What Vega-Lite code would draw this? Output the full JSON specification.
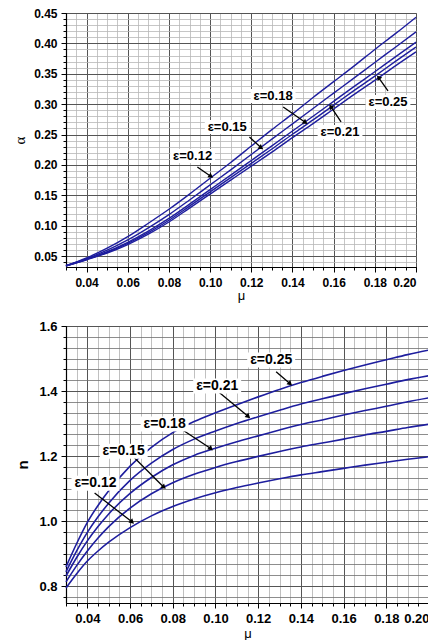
{
  "$schema": "https://vega.github.io/schema/vega-lite/v6.json",
  "background": "white",
  "padding": {"left": 12, "top": 6, "right": 2, "bottom": 0},
  "config": {
    "view": {"stroke": "#000", "strokeWidth": 1},
    "font": "Liberation Sans",
    "axis": {"labelFont": "Liberation Sans", "labelFontWeight": "bold", "labelFontSize": 12, "labelColor": "#000", "domainColor": "#000", "domainWidth": 1.2, "tickColor": "#000", "titleColor": "#000", "titleFontWeight": "normal", "labelPadding": 4, "tickSize": 5}
  },
  "datasets": {
    "alphaCurves": [
      {"mu":0.03,"eps":"0.12","alpha":0.034},{"mu":0.04,"eps":"0.12","alpha":0.047},{"mu":0.05,"eps":"0.12","alpha":0.063},{"mu":0.06,"eps":"0.12","alpha":0.082},{"mu":0.07,"eps":"0.12","alpha":0.104},{"mu":0.08,"eps":"0.12","alpha":0.127},{"mu":0.09,"eps":"0.12","alpha":0.152},{"mu":0.10,"eps":"0.12","alpha":0.178},{"mu":0.11,"eps":"0.12","alpha":0.204},{"mu":0.12,"eps":"0.12","alpha":0.231},{"mu":0.13,"eps":"0.12","alpha":0.258},{"mu":0.14,"eps":"0.12","alpha":0.284},{"mu":0.15,"eps":"0.12","alpha":0.311},{"mu":0.16,"eps":"0.12","alpha":0.337},{"mu":0.17,"eps":"0.12","alpha":0.363},{"mu":0.18,"eps":"0.12","alpha":0.390},{"mu":0.19,"eps":"0.12","alpha":0.416},{"mu":0.20,"eps":"0.12","alpha":0.443},
      {"mu":0.03,"eps":"0.15","alpha":0.034},{"mu":0.04,"eps":"0.15","alpha":0.0457},{"mu":0.05,"eps":"0.15","alpha":0.0596},{"mu":0.06,"eps":"0.15","alpha":0.0765},{"mu":0.07,"eps":"0.15","alpha":0.0964},{"mu":0.08,"eps":"0.15","alpha":0.1182},{"mu":0.09,"eps":"0.15","alpha":0.1423},{"mu":0.10,"eps":"0.15","alpha":0.1671},{"mu":0.11,"eps":"0.15","alpha":0.1918},{"mu":0.12,"eps":"0.15","alpha":0.2171},{"mu":0.13,"eps":"0.15","alpha":0.2425},{"mu":0.14,"eps":"0.15","alpha":0.2676},{"mu":0.15,"eps":"0.15","alpha":0.2929},{"mu":0.16,"eps":"0.15","alpha":0.3181},{"mu":0.17,"eps":"0.15","alpha":0.3433},{"mu":0.18,"eps":"0.15","alpha":0.3686},{"mu":0.19,"eps":"0.15","alpha":0.3937},{"mu":0.20,"eps":"0.15","alpha":0.419},
      {"mu":0.03,"eps":"0.18","alpha":0.034},{"mu":0.04,"eps":"0.18","alpha":0.0448},{"mu":0.05,"eps":"0.18","alpha":0.0572},{"mu":0.06,"eps":"0.18","alpha":0.0726},{"mu":0.07,"eps":"0.18","alpha":0.091},{"mu":0.08,"eps":"0.18","alpha":0.1119},{"mu":0.09,"eps":"0.18","alpha":0.1354},{"mu":0.10,"eps":"0.18","alpha":0.1593},{"mu":0.11,"eps":"0.18","alpha":0.1831},{"mu":0.12,"eps":"0.18","alpha":0.2072},{"mu":0.13,"eps":"0.18","alpha":0.2314},{"mu":0.14,"eps":"0.18","alpha":0.2559},{"mu":0.15,"eps":"0.18","alpha":0.28},{"mu":0.16,"eps":"0.18","alpha":0.3046},{"mu":0.17,"eps":"0.18","alpha":0.3292},{"mu":0.18,"eps":"0.18","alpha":0.3533},{"mu":0.19,"eps":"0.18","alpha":0.3778},{"mu":0.20,"eps":"0.18","alpha":0.402},
      {"mu":0.03,"eps":"0.21","alpha":0.034},{"mu":0.04,"eps":"0.21","alpha":0.0444},{"mu":0.05,"eps":"0.21","alpha":0.0561},{"mu":0.06,"eps":"0.21","alpha":0.0708},{"mu":0.07,"eps":"0.21","alpha":0.0885},{"mu":0.08,"eps":"0.21","alpha":0.1089},{"mu":0.09,"eps":"0.21","alpha":0.1322},{"mu":0.10,"eps":"0.21","alpha":0.1556},{"mu":0.11,"eps":"0.21","alpha":0.1791},{"mu":0.12,"eps":"0.21","alpha":0.2026},{"mu":0.13,"eps":"0.21","alpha":0.2262},{"mu":0.14,"eps":"0.21","alpha":0.2505},{"mu":0.15,"eps":"0.21","alpha":0.274},{"mu":0.16,"eps":"0.21","alpha":0.2983},{"mu":0.17,"eps":"0.21","alpha":0.3226},{"mu":0.18,"eps":"0.21","alpha":0.3462},{"mu":0.19,"eps":"0.21","alpha":0.3704},{"mu":0.20,"eps":"0.21","alpha":0.394},
      {"mu":0.03,"eps":"0.25","alpha":0.034},{"mu":0.04,"eps":"0.25","alpha":0.044},{"mu":0.05,"eps":"0.25","alpha":0.055},{"mu":0.06,"eps":"0.25","alpha":0.069},{"mu":0.07,"eps":"0.25","alpha":0.086},{"mu":0.08,"eps":"0.25","alpha":0.106},{"mu":0.09,"eps":"0.25","alpha":0.129},{"mu":0.10,"eps":"0.25","alpha":0.152},{"mu":0.11,"eps":"0.25","alpha":0.175},{"mu":0.12,"eps":"0.25","alpha":0.198},{"mu":0.13,"eps":"0.25","alpha":0.221},{"mu":0.14,"eps":"0.25","alpha":0.245},{"mu":0.15,"eps":"0.25","alpha":0.268},{"mu":0.16,"eps":"0.25","alpha":0.292},{"mu":0.17,"eps":"0.25","alpha":0.316},{"mu":0.18,"eps":"0.25","alpha":0.339},{"mu":0.19,"eps":"0.25","alpha":0.363},{"mu":0.20,"eps":"0.25","alpha":0.386}
    ],
    "alphaLabels": [
      {"mu":0.0915,"alpha":0.2148,"label":"ε=0.12"},
      {"mu":0.1083,"alpha":0.2625,"label":"ε=0.15"},
      {"mu":0.1306,"alpha":0.3135,"label":"ε=0.18"},
      {"mu":0.1631,"alpha":0.2543,"label":"ε=0.21"},
      {"mu":0.1864,"alpha":0.3036,"label":"ε=0.25"}
    ],
    "alphaArrows": [
      {"mu":0.0938,"alpha":0.1967,"mu2":0.1001,"alpha2":0.1819},
      {"mu":0.1191,"alpha":0.246,"mu2":0.1245,"alpha2":0.229},
      {"mu":0.1355,"alpha":0.2954,"mu2":0.146,"alpha2":0.2705},
      {"mu":0.1636,"alpha":0.2707,"mu2":0.1588,"alpha2":0.295},
      {"mu":0.1864,"alpha":0.3217,"mu2":0.182,"alpha2":0.343}
    ],
    "nCurves": [
      {"mu":0.03,"eps":"0.12","n":0.794},{"mu":0.035,"eps":"0.12","n":0.838},{"mu":0.04,"eps":"0.12","n":0.877},{"mu":0.045,"eps":"0.12","n":0.908},{"mu":0.05,"eps":"0.12","n":0.935},{"mu":0.06,"eps":"0.12","n":0.980},{"mu":0.07,"eps":"0.12","n":1.016},{"mu":0.08,"eps":"0.12","n":1.045},{"mu":0.09,"eps":"0.12","n":1.068},{"mu":0.10,"eps":"0.12","n":1.087},{"mu":0.11,"eps":"0.12","n":1.103},{"mu":0.12,"eps":"0.12","n":1.117},{"mu":0.13,"eps":"0.12","n":1.130},{"mu":0.14,"eps":"0.12","n":1.142},{"mu":0.15,"eps":"0.12","n":1.152},{"mu":0.16,"eps":"0.12","n":1.162},{"mu":0.17,"eps":"0.12","n":1.172},{"mu":0.18,"eps":"0.12","n":1.181},{"mu":0.19,"eps":"0.12","n":1.190},{"mu":0.20,"eps":"0.12","n":1.198},
      {"mu":0.03,"eps":"0.15","n":0.813},{"mu":0.035,"eps":"0.15","n":0.863},{"mu":0.04,"eps":"0.15","n":0.908},{"mu":0.045,"eps":"0.15","n":0.948},{"mu":0.05,"eps":"0.15","n":0.983},{"mu":0.06,"eps":"0.15","n":1.040},{"mu":0.07,"eps":"0.15","n":1.084},{"mu":0.08,"eps":"0.15","n":1.118},{"mu":0.09,"eps":"0.15","n":1.144},{"mu":0.10,"eps":"0.15","n":1.165},{"mu":0.11,"eps":"0.15","n":1.183},{"mu":0.12,"eps":"0.15","n":1.199},{"mu":0.13,"eps":"0.15","n":1.214},{"mu":0.14,"eps":"0.15","n":1.228},{"mu":0.15,"eps":"0.15","n":1.240},{"mu":0.16,"eps":"0.15","n":1.252},{"mu":0.17,"eps":"0.15","n":1.265},{"mu":0.18,"eps":"0.15","n":1.276},{"mu":0.19,"eps":"0.15","n":1.288},{"mu":0.20,"eps":"0.15","n":1.298},
      {"mu":0.03,"eps":"0.18","n":0.831},{"mu":0.035,"eps":"0.18","n":0.888},{"mu":0.04,"eps":"0.18","n":0.939},{"mu":0.045,"eps":"0.18","n":0.983},{"mu":0.05,"eps":"0.18","n":1.022},{"mu":0.06,"eps":"0.18","n":1.085},{"mu":0.07,"eps":"0.18","n":1.134},{"mu":0.08,"eps":"0.18","n":1.173},{"mu":0.09,"eps":"0.18","n":1.202},{"mu":0.10,"eps":"0.18","n":1.224},{"mu":0.11,"eps":"0.18","n":1.244},{"mu":0.12,"eps":"0.18","n":1.262},{"mu":0.13,"eps":"0.18","n":1.280},{"mu":0.14,"eps":"0.18","n":1.297},{"mu":0.15,"eps":"0.18","n":1.311},{"mu":0.16,"eps":"0.18","n":1.326},{"mu":0.17,"eps":"0.18","n":1.340},{"mu":0.18,"eps":"0.18","n":1.353},{"mu":0.19,"eps":"0.18","n":1.367},{"mu":0.20,"eps":"0.18","n":1.379},
      {"mu":0.03,"eps":"0.21","n":0.844},{"mu":0.035,"eps":"0.21","n":0.908},{"mu":0.04,"eps":"0.21","n":0.965},{"mu":0.045,"eps":"0.21","n":1.013},{"mu":0.05,"eps":"0.21","n":1.055},{"mu":0.06,"eps":"0.21","n":1.125},{"mu":0.07,"eps":"0.21","n":1.178},{"mu":0.08,"eps":"0.21","n":1.220},{"mu":0.09,"eps":"0.21","n":1.252},{"mu":0.10,"eps":"0.21","n":1.277},{"mu":0.11,"eps":"0.21","n":1.300},{"mu":0.12,"eps":"0.21","n":1.321},{"mu":0.13,"eps":"0.21","n":1.341},{"mu":0.14,"eps":"0.21","n":1.360},{"mu":0.15,"eps":"0.21","n":1.376},{"mu":0.16,"eps":"0.21","n":1.392},{"mu":0.17,"eps":"0.21","n":1.407},{"mu":0.18,"eps":"0.21","n":1.421},{"mu":0.19,"eps":"0.21","n":1.435},{"mu":0.20,"eps":"0.21","n":1.447},
      {"mu":0.03,"eps":"0.25","n":0.859},{"mu":0.035,"eps":"0.25","n":0.931},{"mu":0.04,"eps":"0.25","n":0.996},{"mu":0.045,"eps":"0.25","n":1.048},{"mu":0.05,"eps":"0.25","n":1.093},{"mu":0.06,"eps":"0.25","n":1.169},{"mu":0.07,"eps":"0.25","n":1.227},{"mu":0.08,"eps":"0.25","n":1.272},{"mu":0.09,"eps":"0.25","n":1.306},{"mu":0.10,"eps":"0.25","n":1.333},{"mu":0.11,"eps":"0.25","n":1.358},{"mu":0.12,"eps":"0.25","n":1.382},{"mu":0.13,"eps":"0.25","n":1.405},{"mu":0.14,"eps":"0.25","n":1.426},{"mu":0.15,"eps":"0.25","n":1.445},{"mu":0.16,"eps":"0.25","n":1.463},{"mu":0.17,"eps":"0.25","n":1.480},{"mu":0.18,"eps":"0.25","n":1.496},{"mu":0.19,"eps":"0.25","n":1.512},{"mu":0.20,"eps":"0.25","n":1.526}
    ],
    "nLabels": [
      {"mu":0.0438,"n":1.116,"label":"ε=0.12"},
      {"mu":0.0570,"n":1.2147,"label":"ε=0.15"},
      {"mu":0.0762,"n":1.2985,"label":"ε=0.18"},
      {"mu":0.1008,"n":1.4154,"label":"ε=0.21"},
      {"mu":0.1261,"n":1.4954,"label":"ε=0.25"}
    ],
    "nArrows": [
      {"mu":0.0434,"n":1.0862,"mu2":0.0607,"n2":0.9985},
      {"mu":0.0584,"n":1.2185,"mu2":0.0756,"n2":1.1058},
      {"mu":0.0811,"n":1.2954,"mu2":0.0976,"n2":1.224},
      {"mu":0.1015,"n":1.397,"mu2":0.1151,"n2":1.323},
      {"mu":0.1284,"n":1.4594,"mu2":0.1347,"n2":1.424}
    ]
  },
  "concat": [
    {
      "width": 350,
      "height": 254,
      "layer": [
        {
          "data": {"name": "alphaCurves"},
          "mark": {"type": "line", "interpolate": "monotone", "color": "#1e1e9e", "strokeWidth": 1.4},
          "encoding": {
            "x": {"field": "mu", "type": "quantitative", "scale": {"domain": [0.03, 0.2], "nice": false, "zero": false},
                  "axis": {"orient": "bottom", "values": [0.03,0.035,0.04,0.045,0.05,0.055,0.06,0.065,0.07,0.075,0.08,0.085,0.09,0.095,0.1,0.105,0.11,0.115,0.12,0.125,0.13,0.135,0.14,0.145,0.15,0.155,0.16,0.165,0.17,0.175,0.18,0.185,0.19,0.195,0.2], "labels": false, "title": null, "tickSize": 3, "domain": false, "grid": true, "gridColor": "#b8b8b8", "gridWidth": 0.8}},
            "y": {"field": "alpha", "type": "quantitative", "scale": {"domain": [0.032, 0.45], "nice": false, "zero": false},
                  "axis": {"orient": "left", "values": [0.04,0.05,0.06,0.07,0.08,0.09,0.1,0.11,0.12,0.13,0.14,0.15,0.16,0.17,0.18,0.19,0.2,0.21,0.22,0.23,0.24,0.25,0.26,0.27,0.28,0.29,0.3,0.31,0.32,0.33,0.34,0.35,0.36,0.37,0.38,0.39,0.4,0.41,0.42,0.43,0.44,0.45], "labels": false, "title": null, "tickSize": 3, "domain": false, "grid": true, "gridColor": "#b8b8b8", "gridWidth": 0.8}},
            "detail": {"field": "eps"}
          }
        },
        {
          "data": {"name": "alphaArrows"},
          "mark": {"type": "rule", "color": "#000", "strokeWidth": 1.3},
          "encoding": {
            "x": {"field": "mu", "type": "quantitative", "scale": {"domain": [0.03, 0.2], "nice": false, "zero": false},
                  "axis": {"orient": "bottom", "values": [0.04,0.06,0.08,0.1,0.12,0.14,0.16,0.18,0.2], "format": ".2f", "title": "μ", "titleFontSize": 13, "titlePadding": 1, "labelPadding": 5, "grid": true, "gridColor": "#555", "gridWidth": 1}},
            "y": {"field": "alpha", "type": "quantitative", "scale": {"domain": [0.032, 0.45], "nice": false, "zero": false},
                  "axis": {"orient": "left", "values": [0.05,0.1,0.15,0.2,0.25,0.3,0.35,0.4,0.45], "format": ".2f", "title": "α", "titleFont": "Liberation Serif", "titleFontSize": 15, "titlePadding": 6, "grid": true, "gridColor": "#555", "gridWidth": 1}},
            "x2": {"field": "mu2"},
            "y2": {"field": "alpha2"}
          }
        },
        {
          "data": {"name": "alphaArrows"},
          "transform": [{"filter": "datum.mu2 > datum.mu"}],
          "mark": {"type": "point", "shape": "triangle", "size": 32, "filled": true, "color": "#000", "opacity": 1, "angle": 125},
          "encoding": {
            "x": {"field": "mu2", "type": "quantitative", "scale": {"domain": [0.03, 0.2], "nice": false, "zero": false}, "axis": null},
            "y": {"field": "alpha2", "type": "quantitative", "scale": {"domain": [0.032, 0.45], "nice": false, "zero": false}, "axis": null}
          }
        },
        {
          "data": {"name": "alphaArrows"},
          "transform": [{"filter": "datum.mu2 < datum.mu"}],
          "mark": {"type": "point", "shape": "triangle", "size": 32, "filled": true, "color": "#000", "opacity": 1, "angle": 323},
          "encoding": {
            "x": {"field": "mu2", "type": "quantitative", "scale": {"domain": [0.03, 0.2], "nice": false, "zero": false}, "axis": null},
            "y": {"field": "alpha2", "type": "quantitative", "scale": {"domain": [0.032, 0.45], "nice": false, "zero": false}, "axis": null}
          }
        },
        {
          "data": {"name": "alphaLabels"},
          "mark": {"type": "point", "shape": "M-3.2,-1H3.2V1H-3.2Z", "size": 196, "filled": true, "color": "white", "opacity": 1, "strokeWidth": 0},
          "encoding": {
            "x": {"field": "mu", "type": "quantitative", "scale": {"domain": [0.03, 0.2], "nice": false, "zero": false}, "axis": null},
            "y": {"field": "alpha", "type": "quantitative", "scale": {"domain": [0.032, 0.45], "nice": false, "zero": false}, "axis": null}
          }
        },
        {
          "data": {"name": "alphaLabels"},
          "mark": {"type": "text", "font": "Liberation Sans", "fontWeight": "bold", "fontSize": 13, "color": "#000"},
          "encoding": {
            "x": {"field": "mu", "type": "quantitative", "scale": {"domain": [0.03, 0.2], "nice": false, "zero": false}, "axis": null},
            "y": {"field": "alpha", "type": "quantitative", "scale": {"domain": [0.032, 0.45], "nice": false, "zero": false}, "axis": null},
            "text": {"field": "label"}
          }
        }
      ],
      "resolve": {"axis": {"x": "independent", "y": "independent"}}
    },
    {
      "width": 363,
      "height": 277,
      "layer": [
        {
          "data": {"name": "nCurves"},
          "mark": {"type": "line", "interpolate": "monotone", "color": "#1e1e9e", "strokeWidth": 1.6},
          "encoding": {
            "x": {"field": "mu", "type": "quantitative", "scale": {"domain": [0.03, 0.2], "nice": false, "zero": false},
                  "axis": {"orient": "bottom", "values": [0.03,0.035,0.04,0.045,0.05,0.055,0.06,0.065,0.07,0.075,0.08,0.085,0.09,0.095,0.1,0.105,0.11,0.115,0.12,0.125,0.13,0.135,0.14,0.145,0.15,0.155,0.16,0.165,0.17,0.175,0.18,0.185,0.19,0.195,0.2], "labels": false, "title": null, "tickSize": 3, "domain": false, "grid": true, "gridColor": "#b0b0b0", "gridWidth": 0.8}},
            "y": {"field": "n", "type": "quantitative", "scale": {"domain": [0.748, 1.6], "nice": false, "zero": false},
                  "axis": {"orient": "left", "values": [0.76667,0.8,0.83333,0.86667,0.9,0.93333,0.96667,1.0,1.03333,1.06667,1.1,1.13333,1.16667,1.2,1.23333,1.26667,1.3,1.33333,1.36667,1.4,1.43333,1.46667,1.5,1.53333,1.56667,1.6], "labels": false, "title": null, "tickSize": 3, "domain": false, "grid": true, "gridColor": "#707070", "gridWidth": 0.8}},
            "detail": {"field": "eps"}
          }
        },
        {
          "data": {"name": "nArrows"},
          "mark": {"type": "rule", "color": "#000", "strokeWidth": 1.3},
          "encoding": {
            "x": {"field": "mu", "type": "quantitative", "scale": {"domain": [0.03, 0.2], "nice": false, "zero": false},
                  "axis": {"orient": "bottom", "values": [0.04,0.06,0.08,0.1,0.12,0.14,0.16,0.18,0.2], "format": ".2f", "title": "μ", "titleFontSize": 13, "titlePadding": 2, "labelFontSize": 13, "grid": true, "gridColor": "#555", "gridWidth": 1}},
            "y": {"field": "n", "type": "quantitative", "scale": {"domain": [0.748, 1.6], "nice": false, "zero": false},
                  "axis": {"orient": "left", "values": [0.8,1.0,1.2,1.4,1.6], "format": ".1f", "title": "n", "titleFontWeight": "bold", "titleFontSize": 15, "titlePadding": 8, "labelFontSize": 13, "grid": true, "gridColor": "#555", "gridWidth": 1}},
            "x2": {"field": "mu2"},
            "y2": {"field": "n2"}
          }
        },
        {
          "data": {"name": "nArrows"},
          "mark": {"type": "point", "shape": "triangle", "size": 32, "filled": true, "color": "#000", "opacity": 1, "angle": 132},
          "encoding": {
            "x": {"field": "mu2", "type": "quantitative", "scale": {"domain": [0.03, 0.2], "nice": false, "zero": false}, "axis": null},
            "y": {"field": "n2", "type": "quantitative", "scale": {"domain": [0.748, 1.6], "nice": false, "zero": false}, "axis": null}
          }
        },
        {
          "data": {"name": "nLabels"},
          "mark": {"type": "point", "shape": "M-3.2,-1H3.2V1H-3.2Z", "size": 225, "filled": true, "color": "white", "opacity": 1, "strokeWidth": 0},
          "encoding": {
            "x": {"field": "mu", "type": "quantitative", "scale": {"domain": [0.03, 0.2], "nice": false, "zero": false}, "axis": null},
            "y": {"field": "n", "type": "quantitative", "scale": {"domain": [0.748, 1.6], "nice": false, "zero": false}, "axis": null}
          }
        },
        {
          "data": {"name": "nLabels"},
          "mark": {"type": "text", "font": "Liberation Sans", "fontWeight": "bold", "fontSize": 14, "color": "#000"},
          "encoding": {
            "x": {"field": "mu", "type": "quantitative", "scale": {"domain": [0.03, 0.2], "nice": false, "zero": false}, "axis": null},
            "y": {"field": "n", "type": "quantitative", "scale": {"domain": [0.748, 1.6], "nice": false, "zero": false}, "axis": null},
            "text": {"field": "label"}
          }
        }
      ],
      "resolve": {"axis": {"x": "independent", "y": "independent"}}
    }
  ],
  "columns": 1,
  "align": "none",
  "spacing": 16
}
